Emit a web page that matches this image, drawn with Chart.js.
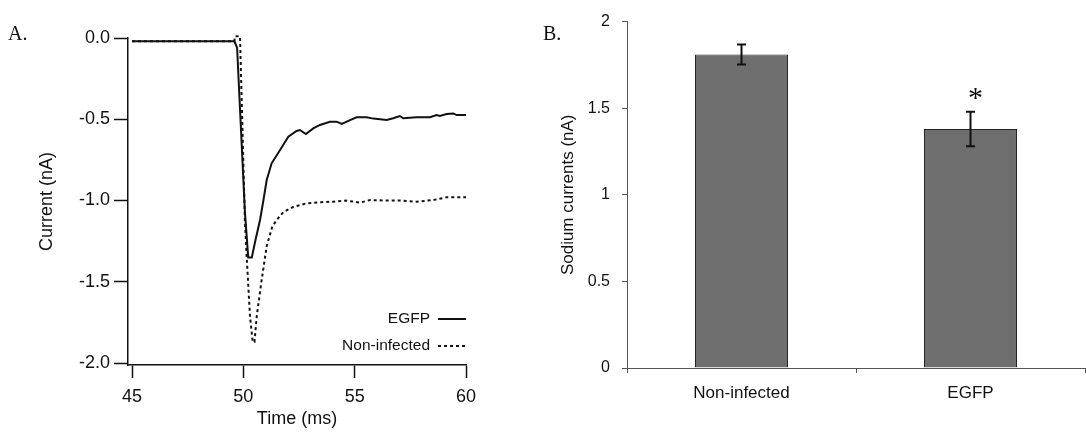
<!DOCTYPE html>
<html>
<head>
<meta charset="utf-8">
<script src="https://cdn.jsdelivr.net/npm/chart.js@4.4.1/dist/chart.umd.min.js"></script>
<style>
  body { margin: 0; background: #fff; }
  #wrap { position: relative; width: 1086px; height: 435px; overflow: hidden; }
  .panel { position: absolute; top: 0; }
  .tag { position: absolute; font-family: "Liberation Serif", "Times New Roman", serif; font-size: 20px; line-height: 20px; color: #111; }
</style>
</head>
<body>
<div id="wrap">
  <canvas id="traceChart" class="panel" width="500" height="435" style="left:0"></canvas>
  <canvas id="barChart" class="panel" width="586" height="435" style="left:500px"></canvas>
  <div class="tag" style="left:8px;top:23px">A.</div>
  <div class="tag" style="left:543px;top:23px">B.</div>
</div>
<script>
// panel A: current traces (ms, nA)
const egfpTime = [45, 49.6, 49.72, 50.07, 50.22, 50.38, 50.55, 50.75, 50.9, 51.05, 51.27, 51.65, 52.02, 52.39, 52.54, 52.81, 53.14, 53.44, 53.89, 54.19, 54.42, 54.79, 55.09, 55.54, 55.84, 56.44, 56.73, 57.03, 57.18, 57.78, 58.38, 58.68, 58.83, 59.13, 59.43, 59.58, 60];
const egfpCurrent = [-0.02, -0.02, -0.06, -1.07, -1.35, -1.35, -1.24, -1.12, -1.0, -0.874, -0.771, -0.689, -0.607, -0.572, -0.566, -0.591, -0.556, -0.535, -0.515, -0.515, -0.529, -0.505, -0.488, -0.488, -0.496, -0.505, -0.494, -0.48, -0.494, -0.488, -0.488, -0.474, -0.48, -0.468, -0.464, -0.474, -0.474];
const niTime = [45, 49.6, 49.62, 49.85, 50.07, 50.15, 50.3, 50.42, 50.5, 50.6, 50.8, 51.05, 51.3, 51.5, 51.8, 52.24, 52.84, 53.5, 54.04, 54.6, 55.24, 55.69, 56.4, 57.03, 57.78, 58.53, 59.13, 60];
const niCurrent = [-0.02, -0.02, 0.01, 0.01, -1.12, -1.345, -1.715, -1.87, -1.87, -1.715, -1.51, -1.28, -1.16, -1.12, -1.07, -1.04, -1.017, -1.01, -1.007, -1.0, -1.013, -0.997, -1.0, -1.0, -1.007, -0.997, -0.98, -0.98];
const timeTicks = [45, 50, 55, 60];
const currentTicks = [-2, -1.5, -1, -0.5, 0];

// panel B: mean sodium currents (nA)
const groups = ["Non-infected", "EGFP"];
const sodiumMean = [1.81, 1.38];
const sodiumErr = [0.058, 0.10];
const sigMarks = ["", "*"];

Chart.defaults.font.family = "'Liberation Sans', Arial, sans-serif";
Chart.defaults.color = "#111";

const toPoints = (xs, ys) => xs.map((x, i) => ({ x, y: ys[i] }));

// legend drawn like the original: label on the left, line sample on the right
const traceLegend = {
  id: "traceLegend",
  afterDatasetsDraw(chart) {
    const { ctx, chartArea } = chart;
    const rows = [chartArea.bottom - 46, chartArea.bottom - 19];
    ctx.save();
    ctx.font = "15.5px 'Liberation Sans', Arial, sans-serif";
    ctx.textAlign = "right";
    ctx.textBaseline = "middle";
    chart.data.datasets.forEach((ds, i) => {
      const y = rows[i];
      ctx.fillStyle = "#111";
      ctx.fillText(ds.label, chartArea.right - 36, y);
      ctx.strokeStyle = ds.borderColor;
      ctx.lineWidth = ds.borderWidth;
      ctx.setLineDash(ds.borderDash || []);
      ctx.beginPath();
      ctx.moveTo(chartArea.right - 28, y);
      ctx.lineTo(chartArea.right, y);
      ctx.stroke();
    });
    ctx.restore();
  }
};

new Chart(document.getElementById("traceChart"), {
  type: "line",
  data: {
    datasets: [
      { label: "EGFP", data: toPoints(egfpTime, egfpCurrent), borderColor: "#111", borderWidth: 2, pointRadius: 0, tension: 0, clip: false },
      { label: "Non-infected", data: toPoints(niTime, niCurrent), borderColor: "#111", borderWidth: 2, borderDash: [3, 3], pointRadius: 0, tension: 0, clip: false }
    ]
  },
  options: {
    responsive: false,
    animation: false,
    layout: { padding: { top: 38, right: 34, bottom: 0, left: 0 } },
    plugins: { legend: { display: false }, tooltip: { enabled: false } },
    scales: {
      x: {
        type: "linear",
        min: 44.82,
        max: 60,
        afterBuildTicks: (s) => { s.ticks = timeTicks.map(v => ({ value: v })); },
        afterFit: (s) => { s.height = 70; },
        border: { display: true, color: "#111", width: 1.5 },
        grid: { drawOnChartArea: false, tickLength: 13, tickColor: "#111", tickWidth: 1.5 },
        ticks: { font: { size: 18 }, padding: 8, autoSkip: false, maxRotation: 0 },
        title: { display: true, text: "Time (ms)", font: { size: 18 }, padding: { top: 0, bottom: 5 } }
      },
      y: {
        min: -2.012,
        max: 0,
        afterBuildTicks: (s) => { s.ticks = currentTicks.map(v => ({ value: v })); },
        afterFit: (s) => { s.width = 128; },
        border: { display: true, color: "#111", width: 1.5 },
        grid: { drawOnChartArea: false, tickLength: 14, tickColor: "#111", tickWidth: 1.5 },
        ticks: { font: { size: 18 }, padding: 4, autoSkip: false, callback: (v) => Number(v).toFixed(1) },
        title: { display: true, text: "Current (nA)", font: { size: 18 }, padding: { top: 36, bottom: 0 } }
      }
    }
  },
  plugins: [traceLegend]
});

// error bars + significance mark
const errorBars = {
  id: "errorBars",
  afterDatasetsDraw(chart) {
    const { ctx } = chart;
    const yScale = chart.scales.y;
    const meta = chart.getDatasetMeta(0);
    ctx.save();
    meta.data.forEach((bar, i) => {
      const top = yScale.getPixelForValue(sodiumMean[i] + sodiumErr[i]);
      const bot = yScale.getPixelForValue(sodiumMean[i] - sodiumErr[i]);
      ctx.strokeStyle = "#111";
      ctx.lineWidth = 2;
      ctx.beginPath();
      ctx.moveTo(bar.x, top); ctx.lineTo(bar.x, bot);
      ctx.moveTo(bar.x - 4.5, top); ctx.lineTo(bar.x + 4.5, top);
      ctx.moveTo(bar.x - 4.5, bot); ctx.lineTo(bar.x + 4.5, bot);
      ctx.stroke();
      if (sigMarks[i]) {
        ctx.fillStyle = "#111";
        ctx.font = "30px 'Liberation Serif', serif";
        ctx.textAlign = "center";
        ctx.textBaseline = "middle";
        ctx.fillText(sigMarks[i], bar.x + 5, top - 13);
      }
    });
    ctx.restore();
  }
};

new Chart(document.getElementById("barChart"), {
  type: "bar",
  data: {
    labels: groups,
    datasets: [{
      data: sodiumMean,
      backgroundColor: "#6e6e6e",
      borderColor: "#222",
      borderWidth: 1,
      categoryPercentage: 1,
      barPercentage: 0.406
    }]
  },
  options: {
    responsive: false,
    animation: false,
    layout: { padding: { top: 17, right: 1, bottom: 0, left: 0 } },
    plugins: { legend: { display: false }, tooltip: { enabled: false } },
    scales: {
      x: {
        afterFit: (s) => { s.height = 67; },
        border: { display: true, color: "#555", width: 1 },
        grid: { drawOnChartArea: false, offset: true, tickLength: 5, tickColor: "#555" },
        ticks: { font: { size: 17 }, padding: 10 }
      },
      y: {
        min: 0,
        max: 2,
        ticks: { stepSize: 0.5, font: { size: 16 }, padding: 12, callback: (v) => String(Number(v)) },
        afterFit: (s) => { s.width = 127; },
        border: { display: true, color: "#555", width: 1 },
        grid: { drawOnChartArea: false, tickLength: 5, tickColor: "#555" },
        title: { display: true, text: "Sodium currents (nA)", font: { size: 17 }, padding: { top: 58, bottom: 0 } }
      }
    }
  },
  plugins: [errorBars]
});
</script>
</body>
</html>
